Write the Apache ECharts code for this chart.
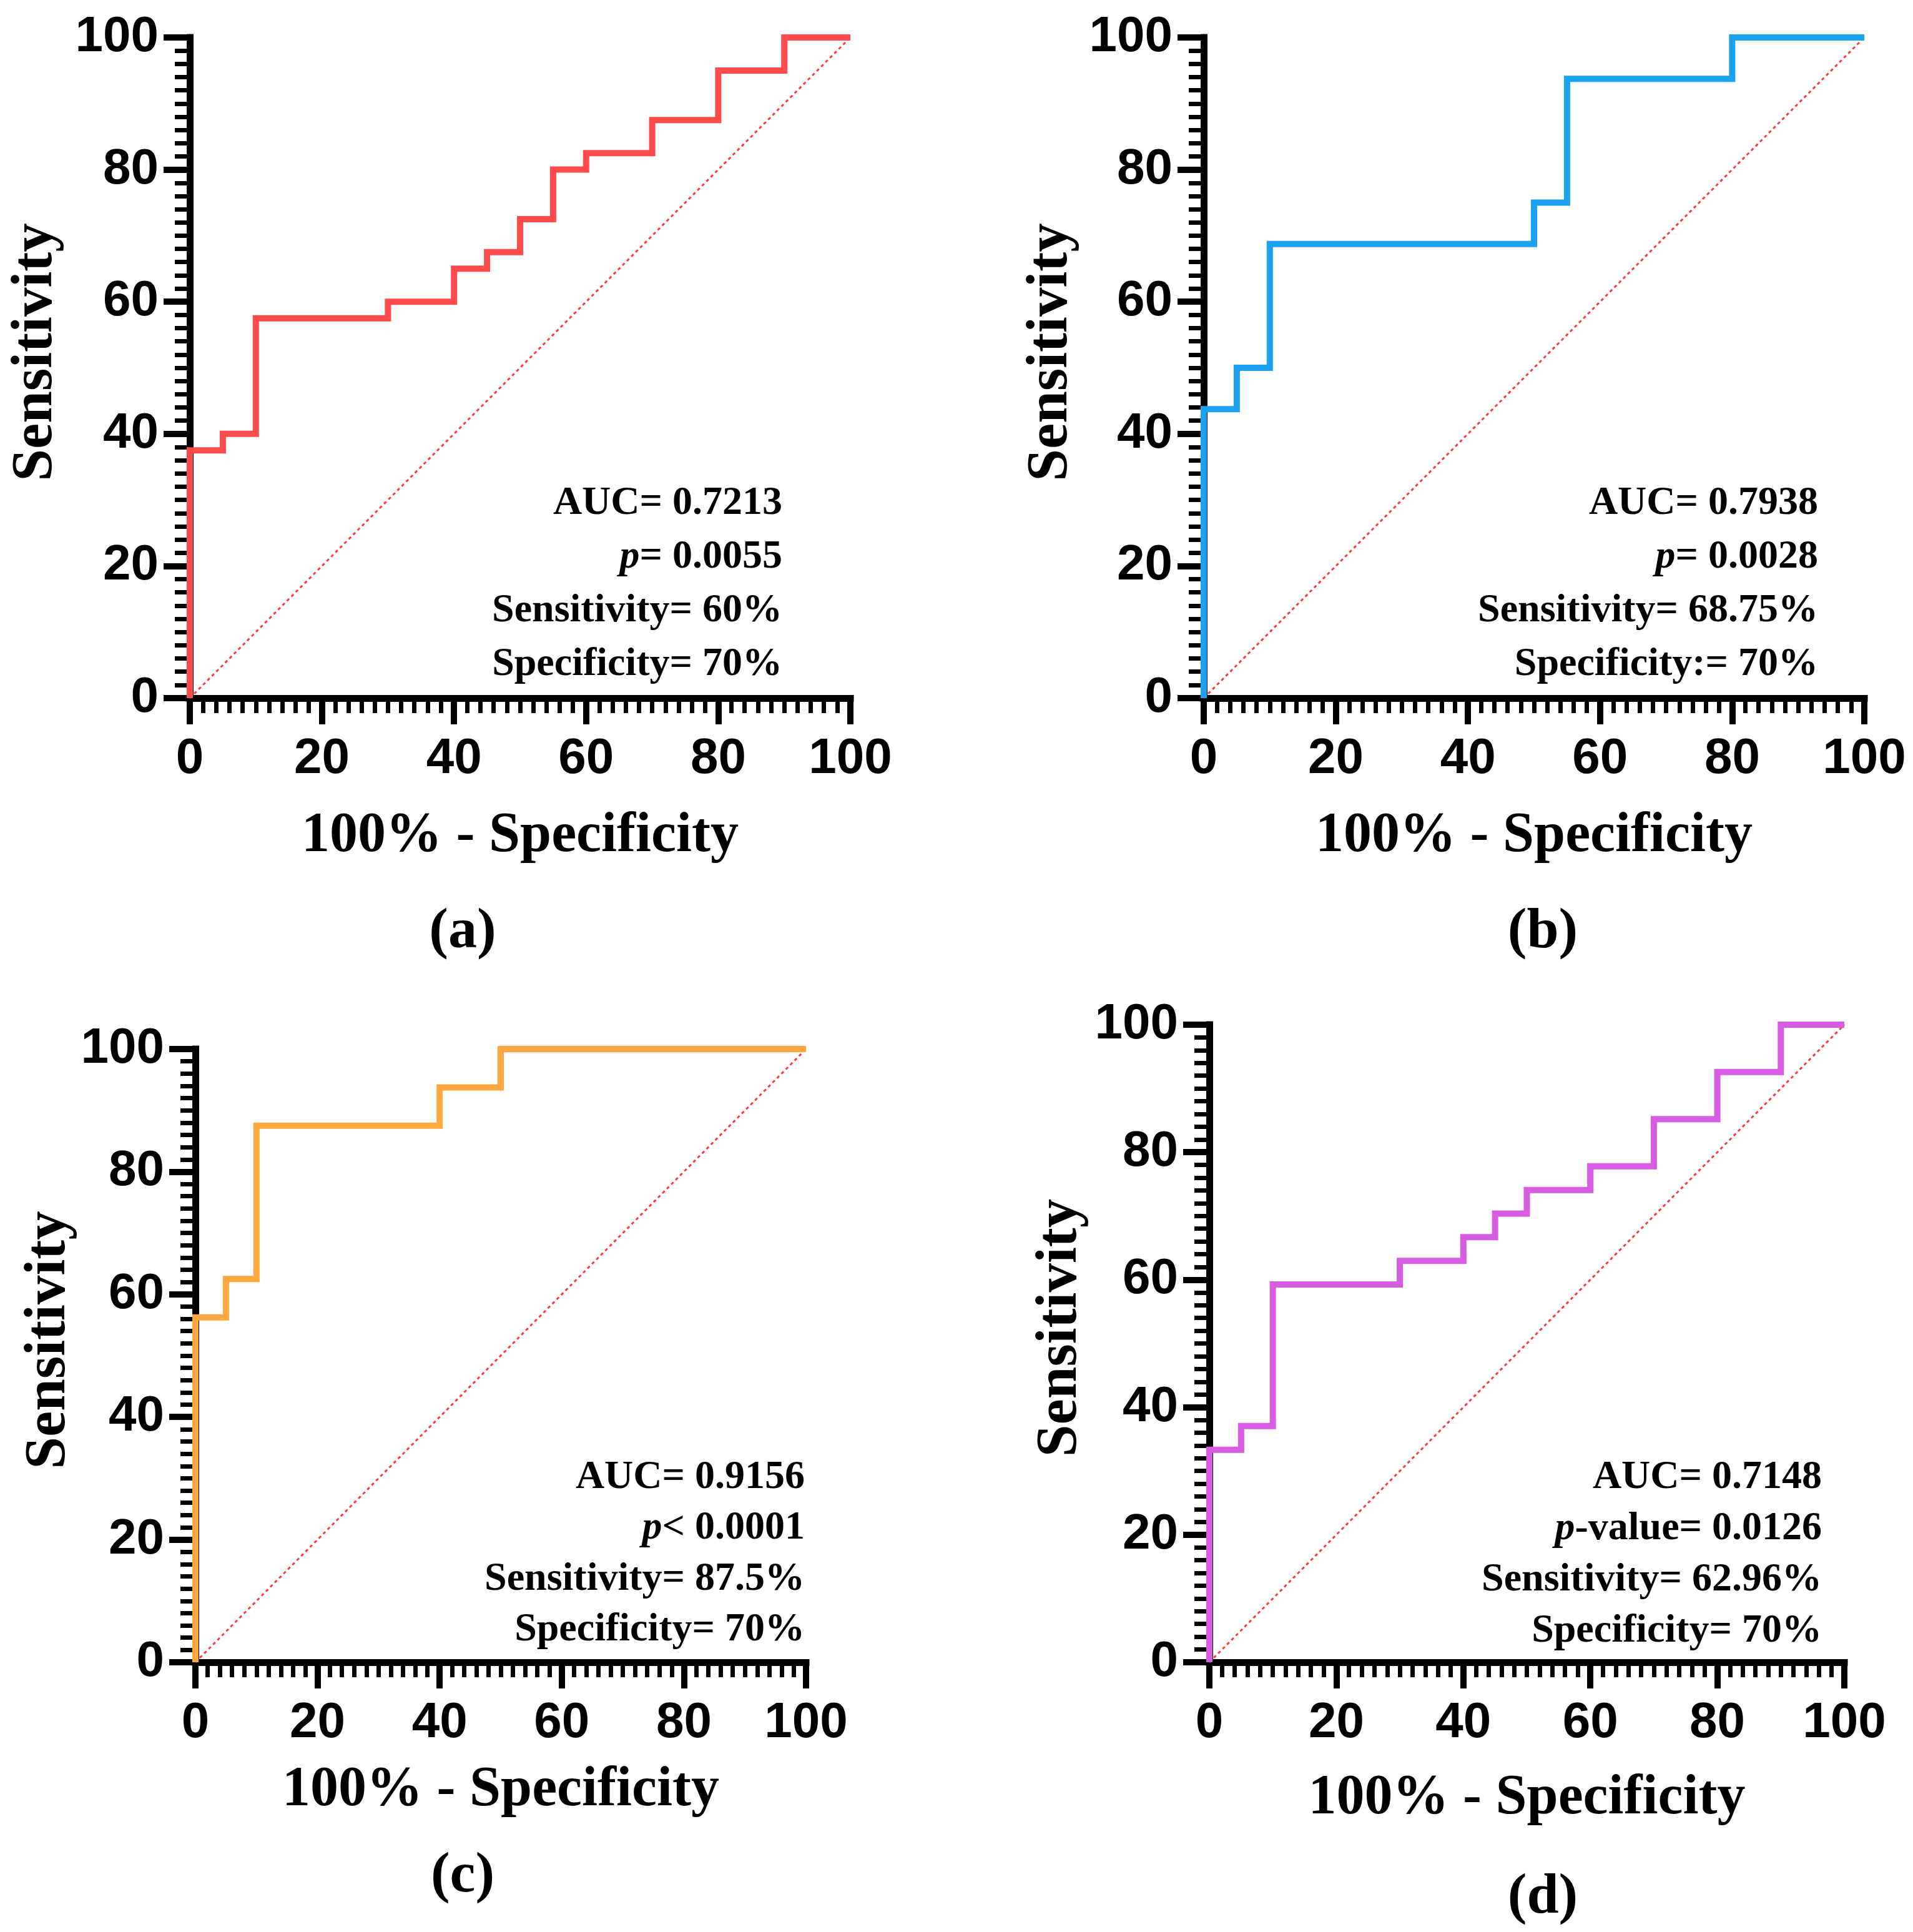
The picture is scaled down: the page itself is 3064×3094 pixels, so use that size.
<!DOCTYPE html>
<html lang="en">
<head>
  <meta charset="UTF-8">
  <title>ROC curves</title>
  <style>
    body { margin: 0; background: #fff; }
    #chart { width: 3064px; height: 3094px; }
  </style>
</head>
<body>
  <div id="chart"></div>
  <script src="https://cdn.jsdelivr.net/npm/echarts@6/dist/echarts.min.js"></script>
  <script>
    // corner points of each ROC step curve (100% - specificity, sensitivity)
    var fprA = [0, 0, 5, 10, 30, 40, 45, 50, 55, 60, 70, 80, 90, 100];
    var tprA = [0, 37.5, 40, 57.5, 60, 65, 67.5, 72.5, 80, 82.5, 87.5, 95, 100, 100];

    var fprB = [0, 0, 5, 10, 50, 55, 80, 100];
    var tprB = [0, 43.75, 50, 68.75, 75, 93.75, 100, 100];

    var fprC = [0, 0, 5, 10, 40, 50, 100];
    var tprC = [0, 56.25, 62.5, 87.5, 93.75, 100, 100];

    var fprD = [0, 0, 5, 10, 30, 40, 45, 50, 60, 70, 80, 90, 100];
    var tprD = [0, 33.33, 37.04, 59.26, 62.96, 66.67, 70.37, 74.07, 77.78, 85.19, 92.59, 100, 100];

    var refLine = [[0, 0], [100, 100]];

    var panelNames = ['(a)', '(b)', '(c)', '(d)'];
    var lineColors = ['#ff4b4b', '#1ba3f2', '#ffa840', '#d65ce2'];
    var statLines = [
      ['AUC= 0.7213', '{i|p}= 0.0055', 'Sensitivity= 60%', 'Specificity= 70%'],
      ['AUC= 0.7938', '{i|p}= 0.0028', 'Sensitivity= 68.75%', 'Specificity:= 70%'],
      ['AUC= 0.9156', '{i|p}< 0.0001', 'Sensitivity= 87.5%', 'Specificity= 70%'],
      ['AUC= 0.7148', '{i|p}-value= 0.0126', 'Sensitivity= 62.96%', 'Specificity= 70%']
    ];

    // layout in pixels
    var grids = [
      { left: 304, top: 60, width: 1058, height: 1058 },
      { left: 1928, top: 60, width: 1058, height: 1058 },
      { left: 313, top: 1680, width: 978, height: 982 },
      { left: 1937, top: 1641, width: 1017, height: 1021 }
    ];
    var xNameGap = [177, 177, 161, 174];
    var yNameGap = [200, 198, 183, 192];
    var statPos = [
      { right: 1253, top: 806, step: 86 },
      { right: 2912, top: 806, step: 86 },
      { right: 1289, top: 2366, step: 81.5 },
      { right: 2918, top: 2366, step: 82 }
    ];
    var labelPos = [[741, 1493], [2471, 1493], [741, 3005], [2471, 3039]];

    var serif = '"Liberation Serif", "Times New Roman", serif';
    var sans = '"Liberation Sans", Arial, sans-serif';

    function zip(xs, ys) {
      return xs.map(function (x, i) { return [x, ys[i]]; });
    }

    function makeAxis(idx, isX) {
      return {
        type: 'value',
        gridIndex: idx,
        min: 0,
        max: 100,
        interval: 20,
        name: isX ? '100% - Specificity' : 'Sensitivity',
        nameLocation: 'middle',
        nameGap: isX ? xNameGap[idx] : yNameGap[idx],
        nameRotate: isX ? 0 : 90,
        nameTextStyle: {
          fontFamily: serif, fontWeight: 'bold', fontSize: isX ? 90 : 93, color: '#000',
          padding: isX ? 0 : [0, 0, 0, 50]
        },
        axisLine: { show: true, lineStyle: { color: '#000', width: 11, cap: 'square' } },
        axisTick: { show: true, length: 42, lineStyle: { color: '#000', width: 10 } },
        minorTick: { show: true, splitNumber: 10, length: 24, lineStyle: { color: '#000', width: 7 } },
        splitLine: { show: false },
        axisLabel: {
          margin: isX ? 58 : 50,
          fontFamily: sans, fontWeight: 'bold', fontSize: 80, color: '#000'
        }
      };
    }

    var rocData = [zip(fprA, tprA), zip(fprB, tprB), zip(fprC, tprC), zip(fprD, tprD)];

    var option = {
      animation: false,
      backgroundColor: '#fff',
      grid: grids,
      xAxis: [0, 1, 2, 3].map(function (i) { return makeAxis(i, true); }),
      yAxis: [0, 1, 2, 3].map(function (i) { return makeAxis(i, false); }),
      series: [],
      graphic: []
    };

    for (let i = 0; i < 4; i++) {
      option.series.push({
        type: 'line',
        xAxisIndex: i,
        yAxisIndex: i,
        data: refLine,
        symbol: 'none',
        clip: false,
        z: 2,
        lineStyle: { color: '#ff3b3b', width: 3, type: [5, 5] }
      });
      option.series.push({
        type: 'line',
        xAxisIndex: i,
        yAxisIndex: i,
        data: rocData[i],
        step: 'end',
        symbol: 'none',
        clip: false,
        z: 3,
        lineStyle: { color: lineColors[i], width: 10, join: 'miter' }
      });

      statLines[i].forEach(function (txt, k) {
        option.graphic.push({
          type: 'text',
          x: statPos[i].right,
          y: statPos[i].top + k * statPos[i].step,
          style: {
            text: txt,
            align: 'right',
            verticalAlign: 'middle',
            fill: '#000',
            font: 'bold 64px ' + serif,
            rich: {
              i: { fontFamily: serif, fontSize: 64, fontWeight: 'bold', fontStyle: 'italic', fill: '#000' }
            }
          }
        });
      });

      option.graphic.push({
        type: 'text',
        x: labelPos[i][0],
        y: labelPos[i][1],
        style: {
          text: panelNames[i],
          align: 'center',
          verticalAlign: 'middle',
          fill: '#000',
          font: 'bold 92px ' + serif
        }
      });
    }

    var chart = echarts.init(document.getElementById('chart'));
    chart.setOption(option);
  </script>
</body>
</html>
